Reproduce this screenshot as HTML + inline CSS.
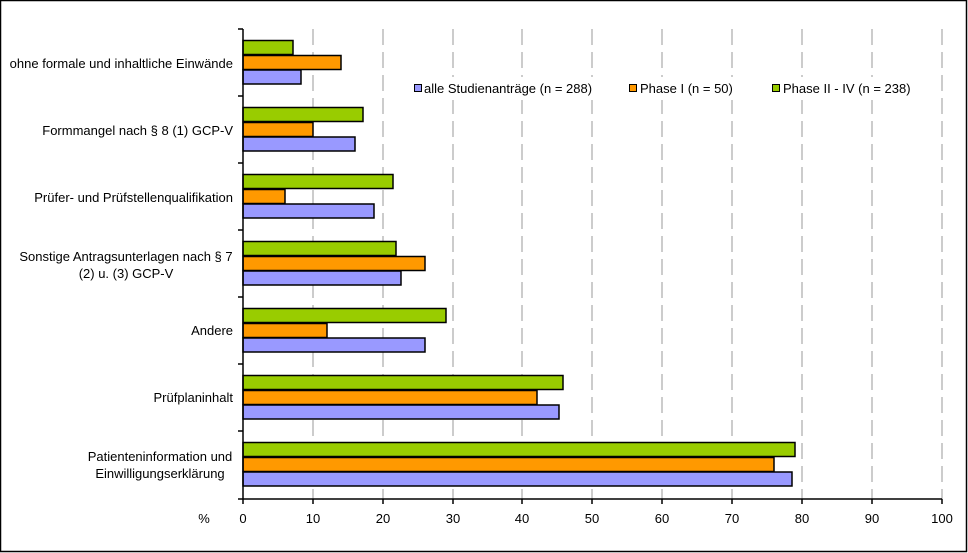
<!DOCTYPE html>
<html><head><meta charset="utf-8"><style>
html,body{margin:0;padding:0;background:#fff;}
svg{display:block;font-family:"Liberation Sans",Arial,sans-serif;}
</style></head><body>
<svg width="968" height="553" viewBox="0 0 968 553">
<rect x="0.5" y="0.5" width="966" height="551" fill="#fff" stroke="#000" stroke-width="1.5"/>
<g stroke="#999" stroke-width="1" stroke-dasharray="16,7">
<line x1="313" y1="29" x2="313" y2="499"/><line x1="383" y1="29" x2="383" y2="499"/>
<line x1="453" y1="29" x2="453" y2="499"/><line x1="522" y1="29" x2="522" y2="499"/>
<line x1="592" y1="29" x2="592" y2="499"/><line x1="662" y1="29" x2="662" y2="499"/>
<line x1="732" y1="29" x2="732" y2="499"/><line x1="802" y1="29" x2="802" y2="499"/>
<line x1="872" y1="29" x2="872" y2="499"/><line x1="942" y1="29" x2="942" y2="499"/>
</g>
<rect x="404" y="77" width="516" height="23" fill="#fff"/>
<g stroke="#000" stroke-width="1.5">
<rect x="243" y="40.5" width="50" height="14" fill="#99cc00"/>
<rect x="243" y="55.5" width="98" height="14" fill="#ff9900"/>
<rect x="243" y="70" width="58" height="14" fill="#9999ff"/>
<rect x="243" y="107.5" width="120" height="14" fill="#99cc00"/>
<rect x="243" y="122.5" width="70" height="14" fill="#ff9900"/>
<rect x="243" y="137" width="112" height="14" fill="#9999ff"/>
<rect x="243" y="174.5" width="150" height="14" fill="#99cc00"/>
<rect x="243" y="189.5" width="42" height="14" fill="#ff9900"/>
<rect x="243" y="204" width="131" height="14" fill="#9999ff"/>
<rect x="243" y="241.5" width="153" height="14" fill="#99cc00"/>
<rect x="243" y="256.5" width="182" height="14" fill="#ff9900"/>
<rect x="243" y="271" width="158" height="14" fill="#9999ff"/>
<rect x="243" y="308.5" width="203" height="14" fill="#99cc00"/>
<rect x="243" y="323.5" width="84" height="14" fill="#ff9900"/>
<rect x="243" y="338" width="182" height="14" fill="#9999ff"/>
<rect x="243" y="375.5" width="320" height="14" fill="#99cc00"/>
<rect x="243" y="390.5" width="294" height="14" fill="#ff9900"/>
<rect x="243" y="405" width="316" height="14" fill="#9999ff"/>
<rect x="243" y="442.5" width="552" height="14" fill="#99cc00"/>
<rect x="243" y="457.5" width="531" height="14" fill="#ff9900"/>
<rect x="243" y="472" width="549" height="14" fill="#9999ff"/>
</g>
<g stroke="#000" stroke-width="1.5">
<line x1="243" y1="29" x2="243" y2="504"/>
<line x1="238" y1="499" x2="942" y2="499"/>
<line x1="238" y1="29" x2="243" y2="29"/><line x1="238" y1="96" x2="243" y2="96"/>
<line x1="238" y1="163" x2="243" y2="163"/><line x1="238" y1="230" x2="243" y2="230"/>
<line x1="238" y1="297" x2="243" y2="297"/><line x1="238" y1="364" x2="243" y2="364"/>
<line x1="238" y1="431" x2="243" y2="431"/>
<line x1="313" y1="499" x2="313" y2="504"/><line x1="383" y1="499" x2="383" y2="504"/>
<line x1="453" y1="499" x2="453" y2="504"/><line x1="522" y1="499" x2="522" y2="504"/>
<line x1="592" y1="499" x2="592" y2="504"/><line x1="662" y1="499" x2="662" y2="504"/>
<line x1="732" y1="499" x2="732" y2="504"/><line x1="802" y1="499" x2="802" y2="504"/>
<line x1="872" y1="499" x2="872" y2="504"/><line x1="942" y1="499" x2="942" y2="504"/>
</g>
<g font-size="13" fill="#000" text-anchor="end">
<text x="233" y="68">ohne formale und inhaltliche Einwände</text>
<text x="233" y="135">Formmangel nach § 8 (1) GCP-V</text>
<text x="233" y="202">Prüfer- und Prüfstellenqualifikation</text>
<text x="233" y="335">Andere</text>
<text x="233" y="402">Prüfplaninhalt</text>
</g>
<g font-size="13" fill="#000" text-anchor="middle">
<text x="126" y="261">Sonstige Antragsunterlagen nach § 7</text>
<text x="126" y="278">(2) u. (3) GCP-V</text>
<text x="160" y="461">Patienteninformation und</text>
<text x="160" y="478">Einwilligungserklärung</text>
</g>
<g font-size="13" fill="#000" text-anchor="middle">
<text x="204" y="523">%</text>
<text x="243" y="523">0</text><text x="313" y="523">10</text><text x="383" y="523">20</text>
<text x="453" y="523">30</text><text x="522" y="523">40</text><text x="592" y="523">50</text>
<text x="662" y="523">60</text><text x="732" y="523">70</text><text x="802" y="523">80</text>
<text x="872" y="523">90</text><text x="942" y="523">100</text>
</g>
<g stroke="#000" stroke-width="1">
<rect x="414.5" y="84.5" width="7" height="7" fill="#9999ff"/>
<rect x="629.5" y="84.5" width="7" height="7" fill="#ff9900"/>
<rect x="772.5" y="84.5" width="7" height="7" fill="#99cc00"/>
</g>
<g font-size="13" fill="#000">
<text x="424" y="93">alle Studienanträge (n = 288)</text>
<text x="640" y="93">Phase I (n = 50)</text>
<text x="783" y="93">Phase II - IV (n = 238)</text>
</g>
</svg>
</body></html>
